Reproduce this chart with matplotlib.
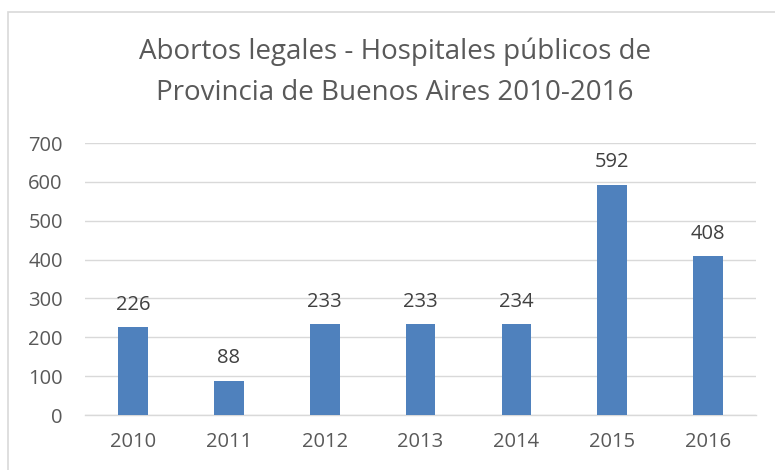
import matplotlib.pyplot as plt
from matplotlib.patches import Rectangle

years = ["2010", "2011", "2012", "2013", "2014", "2015", "2016"]
abortos = [226, 88, 233, 233, 234, 592, 408]
y_ticks = [0, 100, 200, 300, 400, 500, 600, 700]

plt.rcParams["font.family"] = ["Open Sans", "DejaVu Sans"]
gray = "#595959"

fig = plt.figure(figsize=(7.75, 4.7), dpi=100)
fig.patches.append(Rectangle((8 / 775, -0.1), 1.2, 1.1 - 12 / 470,
                             transform=fig.transFigure, fill=False,
                             edgecolor="#d9d9d9", linewidth=1.2))

ax = fig.add_axes([0.1097, 0.117, 0.8658, 0.5787])
x = range(len(years))
bars = ax.bar(x, abortos, width=0.31, color="#4f81bd", zorder=3)
ax.bar_label(bars, padding=9, fontsize=14.5, color="#404040")

ax.set_xlim(-0.5, 6.5)
ax.set_ylim(0, 700)
ax.set_yticks(y_ticks)
ax.set_xticks(list(x))
ax.set_xticklabels(years)
ax.tick_params(length=0, labelsize=14.5, colors=gray, pad=12)
ax.tick_params(axis="y", pad=16)
ax.grid(axis="y", color="#d9d9d9", linewidth=1, zorder=0)
for side in ["top", "right", "left"]:
    ax.spines[side].set_visible(False)
ax.spines["bottom"].set_color("#d9d9d9")
ax.spines["bottom"].set_linewidth(1)

fig.text(0.51, 1 - 72 / 470, "Abortos legales - Hospitales públicos de\nProvincia de Buenos Aires 2010-2016",
         ha="center", va="center", fontsize=20, color=gray, linespacing=1.6)

fig.savefig("out.png", dpi=100)
